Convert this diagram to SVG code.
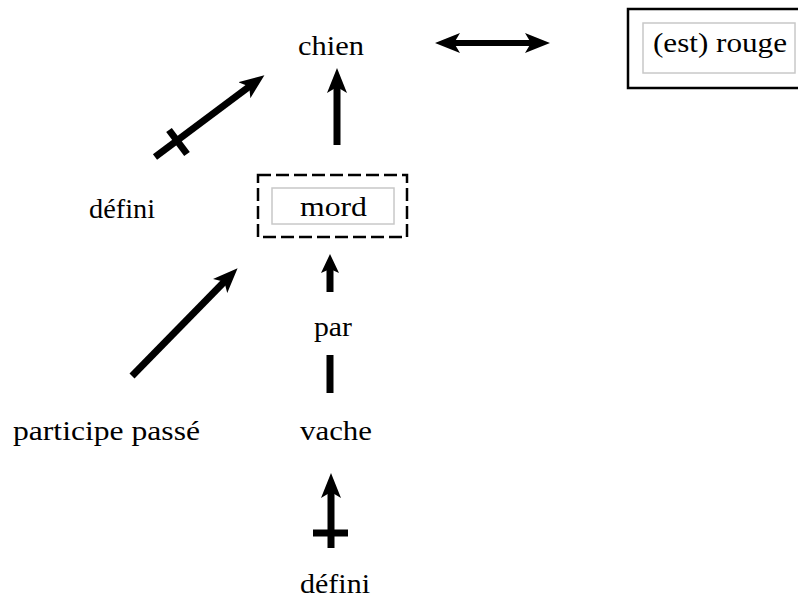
<svg xmlns="http://www.w3.org/2000/svg" width="798" height="611" viewBox="0 0 798 611">
<style>
.t{font-family:"Liberation Serif","Times New Roman",serif;font-size:28px;fill:#000}
.ln{stroke:#000;fill:none;stroke-linecap:butt}
.inner{fill:none;stroke:#c8c8c8;stroke-width:1.5}
</style>
<defs>
<marker id="head" markerUnits="userSpaceOnUse" markerWidth="26" markerHeight="20" viewBox="0 0 26 20" refX="7" refY="10" orient="auto-start-reverse">
<path d="M0,0 L25,10 L0,20 L6,10 z" fill="#000"/>
</marker>
<marker id="headS" markerUnits="userSpaceOnUse" markerWidth="20" markerHeight="18" viewBox="0 0 20 18" refX="5" refY="9" orient="auto">
<path d="M0,0 L19,9 L0,18 L4,9 z" fill="#000"/>
</marker>
</defs>
<rect width="798" height="611" fill="#fff"/>
<g id="chien"><text class="t" x="298" y="55" textLength="66" lengthAdjust="spacingAndGlyphs">chien</text></g>
<g id="est-rouge">
<rect x="628" y="9" width="180" height="79" fill="#fff" stroke="#000" stroke-width="2.5"/>
<rect class="inner" x="643" y="23" width="152" height="50"/>
<text class="t" x="653" y="52" textLength="134" lengthAdjust="spacingAndGlyphs">(est) rouge</text>
</g>
<g id="mord">
<rect x="258" y="175" width="149" height="62" fill="none" stroke="#000" stroke-width="2.5" stroke-dasharray="13,5"/>
<rect class="inner" x="272" y="188" width="122" height="36"/>
<text class="t" x="300" y="216" textLength="67" lengthAdjust="spacingAndGlyphs">mord</text>
</g>
<g id="defini-1"><text class="t" x="89" y="218" textLength="66" lengthAdjust="spacingAndGlyphs">défini</text></g>
<g id="par"><text class="t" x="314" y="336" textLength="38" lengthAdjust="spacingAndGlyphs">par</text></g>
<g id="participe-passe"><text class="t" x="13" y="440" textLength="187" lengthAdjust="spacingAndGlyphs">participe passé</text></g>
<g id="vache"><text class="t" x="300" y="440" textLength="72" lengthAdjust="spacingAndGlyphs">vache</text></g>
<g id="defini-2"><text class="t" x="300" y="593" textLength="70" lengthAdjust="spacingAndGlyphs">défini</text></g>
<g id="connectors">
<line class="ln" x1="453" y1="43" x2="532" y2="43" stroke-width="6" marker-start="url(#head)" marker-end="url(#head)"/>
<line class="ln" x1="337" y1="145" x2="337" y2="86" stroke-width="7" marker-end="url(#head)"/>
<line class="ln" x1="155" y1="157" x2="250" y2="86" stroke-width="7" marker-end="url(#head)"/>
<line class="ln" x1="169" y1="130" x2="187" y2="154" stroke-width="7"/>
<line class="ln" x1="132" y1="376" x2="225" y2="281" stroke-width="7" marker-end="url(#head)"/>
<line class="ln" x1="330" y1="292" x2="330" y2="268" stroke-width="7" marker-end="url(#headS)"/>
<line class="ln" x1="330" y1="355" x2="330" y2="393" stroke-width="7"/>
<line class="ln" x1="331" y1="548" x2="331" y2="491" stroke-width="7" marker-end="url(#head)"/>
<line class="ln" x1="313" y1="533" x2="348" y2="533" stroke-width="7"/>
</g>
</svg>
